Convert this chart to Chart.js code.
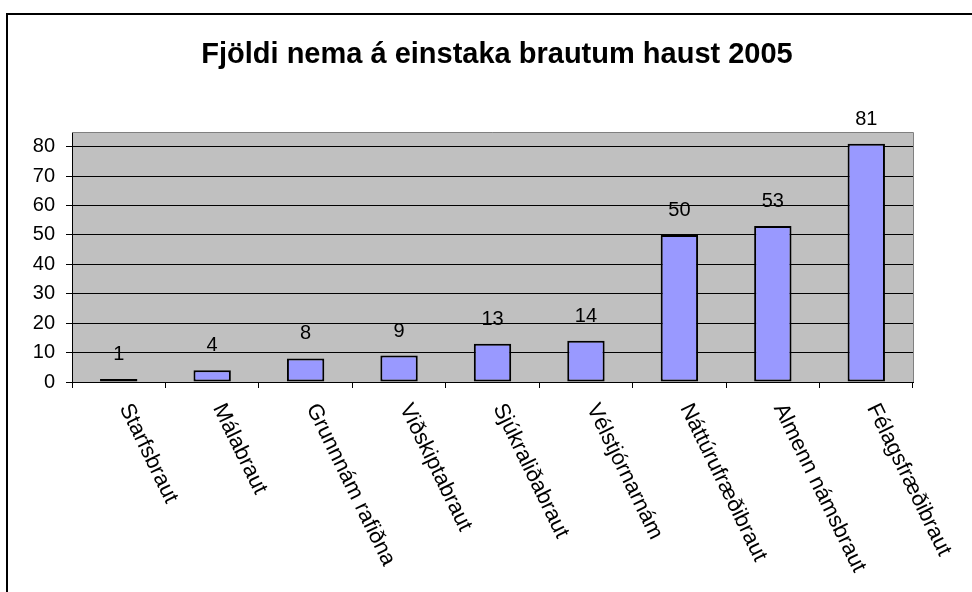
<!DOCTYPE html>
<html>
<head>
<meta charset="utf-8">
<script src="https://cdn.jsdelivr.net/npm/chart.js@4.4.1/dist/chart.umd.min.js"></script>
<style>
html,body{margin:0;padding:0;background:#fff;}
#wrap{width:972px;height:592px;position:relative;}
</style>
</head>
<body>
<div id="wrap"><canvas id="c" width="972" height="592"></canvas></div>
<script>
const chartTitle = "Fjöldi nema á einstaka brautum haust 2005";
const categories = ["Starfsbraut","Málabraut","Grunnnám rafiðna","Viðskiptabraut","Sjúkraliðabraut","Vélstjórnarnám","Náttúrufræðibraut","Almenn námsbraut","Félagsfræðibraut"];
const values = [1,4,8,9,13,14,50,53,81];
const yTicks = [0,10,20,30,40,50,60,70,80];
const yMax = 85;

const FONT = "Arial, 'Liberation Sans', sans-serif";

const decor = {
  id: 'decor',
  beforeDraw(chart) {
    const {ctx, chartArea: a} = chart;
    ctx.save();
    ctx.fillStyle = '#C0C0C0';
    ctx.fillRect(a.left, a.top, a.right - a.left, a.bottom - a.top);
    ctx.restore();
  },
  afterDraw(chart) {
    const {ctx, chartArea: a} = chart;
    ctx.save();
    // plot area border (top/right)
    ctx.strokeStyle = '#808080';
    ctx.lineWidth = 1;
    ctx.beginPath();
    ctx.moveTo(a.left, a.top + 0.5);
    ctx.lineTo(a.right + 0.5, a.top + 0.5);
    ctx.lineTo(a.right + 0.5, a.bottom);
    ctx.stroke();
    // outer chart border (top/left visible)
    ctx.strokeStyle = '#000';
    ctx.lineWidth = 2;
    ctx.beginPath();
    ctx.moveTo(7, 600);
    ctx.lineTo(7, 14);
    ctx.lineTo(980, 14);
    ctx.stroke();
    // title
    ctx.fillStyle = '#000';
    ctx.font = "bold 29px " + FONT;
    ctx.textAlign = 'center';
    ctx.textBaseline = 'alphabetic';
    ctx.fillText(chartTitle, 497, 63);
    // category labels rotated clockwise
    const xs = chart.scales.x;
    ctx.font = "22px " + FONT;
    ctx.textAlign = 'left';
    ctx.textBaseline = 'middle';
    categories.forEach((c, i) => {
      const x = xs.getPixelForValue(i);
      ctx.save();
      ctx.translate(x + 6, 405);
      ctx.rotate(64 * Math.PI / 180);
      ctx.fillText(c, 0, 0);
      ctx.restore();
    });
    // data labels
    const meta = chart.getDatasetMeta(0);
    ctx.font = "20px " + FONT;
    ctx.textAlign = 'center';
    ctx.textBaseline = 'alphabetic';
    meta.data.forEach((bar, i) => {
      ctx.fillText(String(values[i]), bar.x, bar.y - 19);
    });
    ctx.restore();
  }
};

new Chart(document.getElementById('c'), {
  type: 'bar',
  data: {
    labels: categories,
    datasets: [{
      data: values,
      backgroundColor: '#9999FF',
      borderColor: '#000',
      borderWidth: 2,
      borderSkipped: false,
      barPercentage: 0.4,
      categoryPercentage: 1.0
    }]
  },
  options: {
    responsive: false,
    animation: false,
    devicePixelRatio: 1,
    layout: { padding: { top: 132, right: 59, left: 0, bottom: 0 } },
    plugins: { legend: { display: false }, title: { display: false }, tooltip: { enabled: false } },
    scales: {
      x: {
        offset: true,
        grid: { offset: true, drawOnChartArea: false, drawTicks: true, tickLength: 6, tickColor: '#000', lineWidth: 1 },
        border: { color: '#000', width: 1 },
        ticks: { display: false },
        afterFit(s) { s.height = 210; }
      },
      y: {
        min: 0,
        max: yMax,
        ticks: { stepSize: 10, color: '#000', font: { family: FONT, size: 20 }, padding: 11 },
        afterBuildTicks(s) { s.ticks = yTicks.map(v => ({ value: v })); },
        grid: { color: '#000', lineWidth: 1, tickLength: 6, tickColor: '#000' },
        border: { color: '#000', width: 1 },
        afterFit(s) { s.width = 72; }
      }
    }
  },
  plugins: [decor]
});
</script>
</body>
</html>
